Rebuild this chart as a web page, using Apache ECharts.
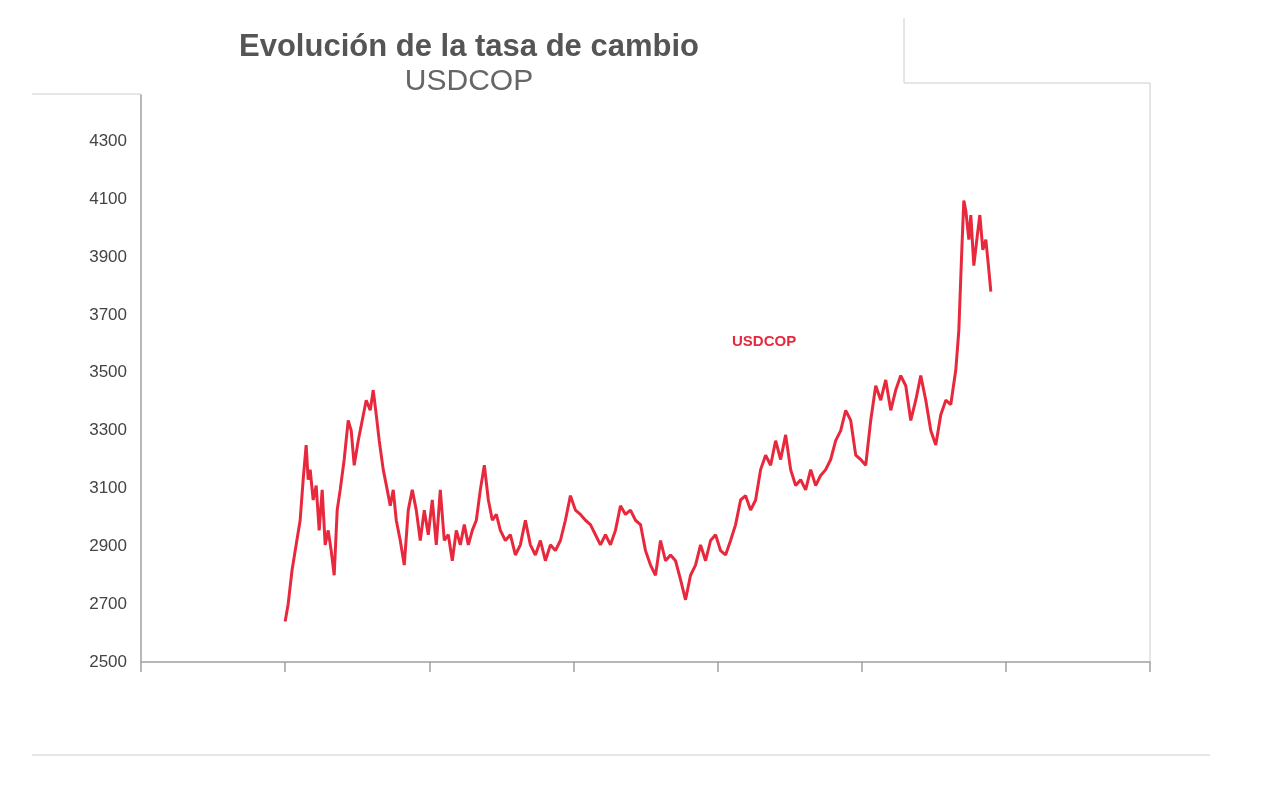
<!DOCTYPE html>
<html>
<head>
<meta charset="utf-8">
<script src="https://cdn.jsdelivr.net/npm/echarts@6/dist/echarts.min.js"></script>
<style>html,body{margin:0;padding:0;background:#fff}#main{width:1288px;height:796px}</style>
</head>
<body>
<div id="main"></div>
<script>
// eje x: indice de observacion (0..1008), eje y: tasa USDCOP
var xIdx = [144,147,151,155,159,162,165,167,169,172,175,178,181,184,187,190,193,196,199,203,207,210,213,217,221,225,229,232,235,238,242,246,249,252,255,259,263,267,271,275,279,283,287,291,295,299,303,307,311,315,319,323,327,331,335,339,343,347,351,355,359,364,369,374,379,384,389,394,399,404,409,414,419,424,429,434,439,444,449,454,459,464,469,474,479,484,489,494,499,504,509,514,519,524,529,534,539,544,549,554,559,564,569,574,579,584,589,594,599,604,609,614,619,624,629,634,639,644,649,654,659,664,669,674,679,684,689,694,699,704,709,714,719,724,729,734,739,744,749,754,759,764,769,774,779,784,789,794,799,804,809,814,817,820,822,824,827,829,832,835,838,841,844,847,849];
var usdcop = [2640,2700,2820,2905,2990,3130,3250,3130,3165,3060,3110,2955,3095,2905,2955,2885,2800,3025,3095,3200,3335,3300,3180,3265,3335,3405,3370,3440,3355,3265,3165,3095,3040,3095,2990,2920,2835,3025,3095,3025,2920,3025,2940,3060,2905,3095,2920,2940,2850,2955,2905,2975,2905,2955,2990,3095,3180,3060,2990,3010,2955,2920,2940,2870,2905,2990,2905,2870,2920,2850,2905,2885,2920,2990,3075,3025,3010,2990,2975,2940,2905,2940,2905,2955,3040,3010,3025,2990,2975,2885,2835,2800,2920,2850,2870,2850,2785,2715,2800,2835,2905,2850,2920,2940,2885,2870,2920,2975,3060,3075,3025,3060,3165,3215,3180,3265,3200,3285,3165,3110,3130,3095,3165,3110,3145,3165,3200,3265,3300,3370,3335,3215,3200,3180,3335,3455,3405,3475,3370,3440,3490,3455,3335,3405,3490,3405,3300,3250,3355,3405,3390,3510,3645,3925,4095,4060,3960,4045,3870,3960,4045,3925,3960,3855,3780];
var serie = [];
for (var i = 0; i < xIdx.length; i++) serie.push([xIdx[i], usdcop[i]]);

var myChart = echarts.init(document.getElementById('main'));
var gris = '#a0a0a0';
var option = {
    animation: false,
    title: {
        text: 'Evolución de la tasa de cambio',
        subtext: 'USDCOP',
        left: 464, top: 27, textAlign: 'center', itemGap: 4,
        textStyle: { color: '#555', fontSize: 31, fontWeight: 'bold', fontFamily: 'Liberation Sans' },
        subtextStyle: { color: '#666', fontSize: 30, fontFamily: 'Liberation Sans' }
    },
    grid: { left: 141, right: 138, top: 95, bottom: 134 },
    xAxis: {
        type: 'value', min: 0, max: 1008, interval: 144,
        axisLine: { lineStyle: { color: gris, width: 1.5 } },
        axisTick: { show: true, length: 10, lineStyle: { color: gris, width: 1.5 } },
        axisLabel: { show: false }, splitLine: { show: false }
    },
    yAxis: {
        type: 'value', min: 2500, max: 4460, interval: 200,
        axisLine: { show: true, lineStyle: { color: gris, width: 1.5 } },
        axisTick: { show: false },
        axisLabel: { color: '#444', fontSize: 17, fontFamily: 'Liberation Sans', margin: 14, showMaxLabel: false,
            formatter: function (v) { return String(v); } },
        splitLine: { show: false }
    },
    series: [{
        name: 'USDCOP', type: 'line', data: serie, showSymbol: false,
        lineStyle: { color: '#e8283c', width: 3 }
    }],
    graphic: [
        { type: 'line', shape: { x1: 32, y1: 94, x2: 141, y2: 94 }, style: { stroke: '#ccc', lineWidth: 1 } },
        { type: 'line', shape: { x1: 904, y1: 18, x2: 904, y2: 83 }, style: { stroke: '#ccc', lineWidth: 1 } },
        { type: 'line', shape: { x1: 904, y1: 83, x2: 1150, y2: 83 }, style: { stroke: '#ccc', lineWidth: 1 } },
        { type: 'line', shape: { x1: 1150, y1: 83, x2: 1150, y2: 662 }, style: { stroke: '#ccc', lineWidth: 1 } },
        { type: 'line', shape: { x1: 32, y1: 755, x2: 1210, y2: 755 }, style: { stroke: '#ccc', lineWidth: 1 } },
        { type: 'text', left: 732, top: 334, style: { text: 'USDCOP', fill: '#e8283c', font: 'bold 15px Liberation Sans' } }
    ]
};
myChart.setOption(option);
</script>
</body>
</html>
